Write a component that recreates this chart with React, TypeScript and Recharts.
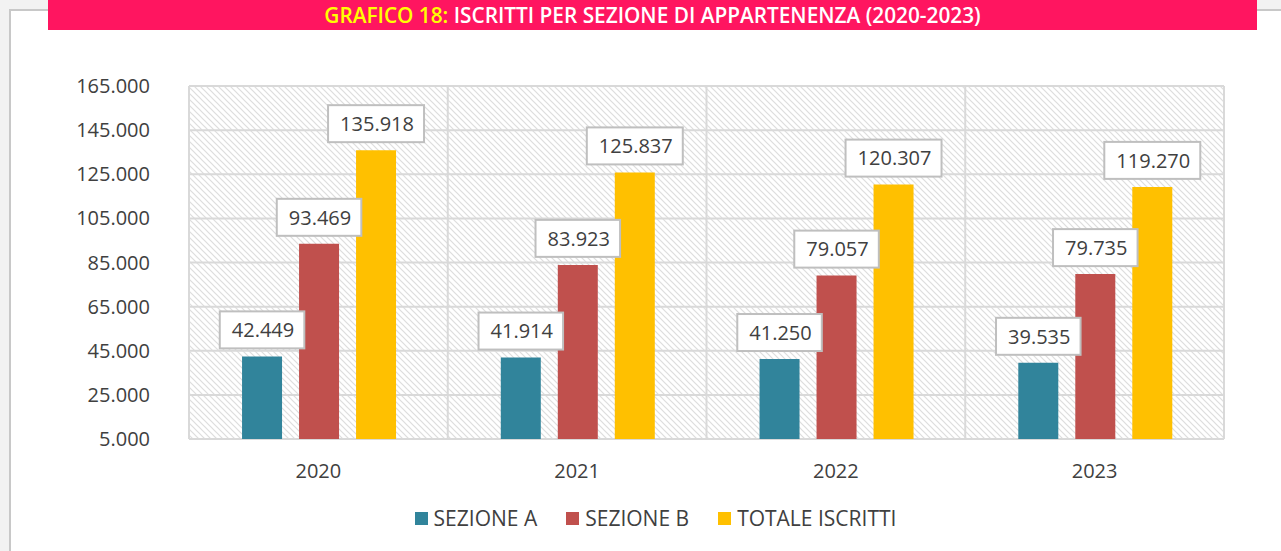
import { BarChart, Bar, XAxis, YAxis, CartesianGrid, Legend, LabelList } from 'recharts';

const years = ['2020', '2021', '2022', '2023'];
const sezioneA = [42449, 41914, 41250, 39535];
const sezioneB = [93469, 83923, 79057, 79735];
const totale = [135918, 125837, 120307, 119270];
const yTicks = [5000, 25000, 45000, 65000, 85000, 105000, 125000, 145000, 165000];

const series = [
  { key: 'sezioneA', name: 'SEZIONE A', color: '#31849b' },
  { key: 'sezioneB', name: 'SEZIONE B', color: '#c0504d' },
  { key: 'totale', name: 'TOTALE ISCRITTI', color: '#ffc000' },
];

const data = years.map((year, i) => ({
  year,
  sezioneA: sezioneA[i],
  sezioneB: sezioneB[i],
  totale: totale[i],
}));

const FONT = '"Open Sans", "Noto Sans", sans-serif';
const TEXT = '#404040';
const FS = 20;

// 165000 -> "165.000"
const fmt = (v: number) => String(v).replace(/\B(?=(\d{3})+(?!\d))/g, '.');

function BoxLabel(props: any) {
  const { x, y, width, value } = props;
  const text = fmt(value);
  const digits = text.replace('.', '').length;
  const textW = digits * 0.572 * FS + 0.267 * FS;
  const boxW = textW + 22;
  const boxH = 37;
  const cx = x + width / 2;
  const top = y - 8 - boxH;
  return (
    <g>
      <rect x={cx - boxW / 2} y={top} width={boxW} height={boxH} fill="#fff" stroke="#bfbfbf" strokeWidth={2} />
      <text x={cx + 1} y={top + boxH / 2} dy="0.36em" textAnchor="middle" fill={TEXT} fontSize={FS} fontFamily={FONT}>
        {text}
      </text>
    </g>
  );
}

function LegendContent() {
  return (
    <div style={{ display: 'flex', justifyContent: 'center', gap: 29, fontFamily: FONT, fontSize: 21, color: TEXT, lineHeight: '26px' }}>
      {series.map((s) => (
        <div key={s.key} style={{ display: 'flex', alignItems: 'center' }}>
          <span style={{ width: 13, height: 13, background: s.color, marginRight: 6, display: 'inline-block' }} />
          <span>{s.name}</span>
        </div>
      ))}
    </div>
  );
}

export default function App() {
  return (
    <div style={{ position: 'absolute', left: 0, top: 0, width: 1281, height: 551, background: '#f2f2f2', overflow: 'hidden' }}>
      <svg width={0} height={0} style={{ position: 'absolute' }}>
        <defs>
          <pattern id="hatch" patternUnits="userSpaceOnUse" width={6} height={6}>
            <rect width={6} height={6} fill="#fff" />
            <path d="M0,0 L6,6 M-1,5 L1,7 M5,-1 L7,1" stroke="#dddddd" strokeWidth={1.2} />
          </pattern>
        </defs>
      </svg>
      <div
        style={{
          position: 'absolute',
          left: 9,
          top: 9,
          width: 1300,
          height: 600,
          background: '#fff',
          borderLeft: '2px solid #c8c8c8',
          borderTop: '2px solid #c8c8c8',
        }}
      />
      <div
        style={{
          position: 'absolute',
          left: 48,
          top: 0,
          width: 1209,
          height: 30,
          background: '#ff1560',
          color: '#fff',
          fontFamily: FONT,
          fontWeight: 600,
          fontSize: 20.8,
          lineHeight: '30px',
          textAlign: 'center',
        }}
      >
        <span style={{ color: '#ffff00' }}>GRAFICO 18:</span> ISCRITTI PER SEZIONE DI APPARTENENZA (2020-2023)
      </div>
      <div style={{ position: 'absolute', left: 0, top: 0 }}>
        <BarChart
          width={1281}
          height={551}
          data={data}
          margin={{ top: 86, right: 57, left: 0, bottom: 0 }}
          barCategoryGap="20.5%"
          barGap={17}
        >
          <CartesianGrid
            stroke="#d9d9d9"
            strokeWidth={2}
            fill="url(#hatch)"
            fillOpacity={1}
            verticalCoordinatesGenerator={({ offset }: any) =>
              [0, 1, 2, 3, 4].map((i) => offset.left + (i * offset.width) / 4)
            }
          />
          <XAxis
            dataKey="year"
            height={86}
            axisLine={false}
            tickLine={false}
            tickSize={0}
            tickMargin={25}
            tick={{ fill: TEXT, fontSize: FS, fontFamily: FONT }}
          />
          <YAxis
            width={189}
            domain={[5000, 165000]}
            ticks={yTicks}
            interval={0}
            axisLine={false}
            tickLine={false}
            tickSize={0}
            tickMargin={39}
            tickFormatter={fmt}
            tick={{ fill: TEXT, fontSize: FS, fontFamily: FONT }}
          />
          <Legend content={<LegendContent />} wrapperStyle={{ position: 'absolute', top: 505, left: 30, width: 1251 }} />
          {series.map((s) => (
            <Bar key={s.key} dataKey={s.key} name={s.name} fill={s.color} isAnimationActive={false}>
              <LabelList dataKey={s.key} content={<BoxLabel />} />
            </Bar>
          ))}
        </BarChart>
      </div>
    </div>
  );
}
